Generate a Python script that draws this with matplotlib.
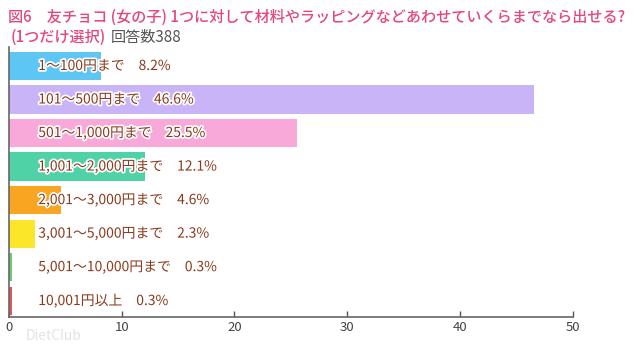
import matplotlib
matplotlib.use("Agg")
import matplotlib.pyplot as plt
import matplotlib.patheffects as pe

plt.rcParams['font.family'] = ['Noto Sans CJK JP', 'DejaVu Sans']

categories = ["1〜100円まで", "101〜500円まで", "501〜1,000円まで", "1,001〜2,000円まで",
              "2,001〜3,000円まで", "3,001〜5,000円まで", "5,001〜10,000円まで", "10,001円以上"]
values = [8.2, 46.6, 25.5, 12.1, 4.6, 2.3, 0.3, 0.3]
colors = ["#5ec6f2", "#c8b4f6", "#f8a9d9", "#4fd3a6", "#f9a522", "#fbe62a", "#6dcb72", "#e0565a"]
xticks = [0, 10, 20, 30, 40, 50]

fig = plt.figure(figsize=(6.4, 3.5), dpi=100)
ax = fig.add_axes([0.014, 0.094, 0.881, 0.772])

ypos = list(range(len(values)))
ax.barh(ypos, values, height=0.84, color=colors, zorder=2)

for y, cat, v in zip(ypos, categories, values):
    ax.text(2.6, y, f"{cat}　{v:.1f}%", va="center", ha="left", fontsize=10,
            color="#8a3a1c",
            path_effects=[pe.withStroke(linewidth=2.5, foreground="white")], zorder=3)

ax.set_xlim(0, 50)
ax.set_ylim(7.49, -0.57)
ax.set_xticks(xticks)
ax.set_yticks([])
ax.tick_params(axis="x", direction="in", length=4, width=1, color="#555555",
               labelsize=9.5, labelcolor="#444444", pad=3)
for s in ["top", "right"]:
    ax.spines[s].set_visible(False)
for s in ["left", "bottom"]:
    ax.spines[s].set_color("#666666")
    ax.spines[s].set_linewidth(1.2)

pink = "#e4467f"
fig.text(0.012, 0.95, "図6　友チョコ (女の子) 1つに対して材料やラッピングなどあわせていくらまでなら出せる?",
         fontsize=10.9, color=pink, ha="left", va="center", fontweight="medium")
sub = fig.text(0.016, 0.893, "(1つだけ選択)", fontsize=10.9, color=pink, ha="left",
               va="center", fontweight="medium")

# place the response count right after the pink subtitle
fig.canvas.draw()
bb = sub.get_window_extent(renderer=fig.canvas.get_renderer())
x_after = fig.transFigure.inverted().transform((bb.x1 + 5, bb.y0))[0]
fig.text(x_after, 0.893, "回答数388", fontsize=10.9, color="#555555", ha="left", va="center")

fig.text(0.04, 0.02, "DietClub", fontsize=10, color="#dddddd", ha="left", va="bottom",
         alpha=0.8)

fig.savefig("out.png", dpi=100)
